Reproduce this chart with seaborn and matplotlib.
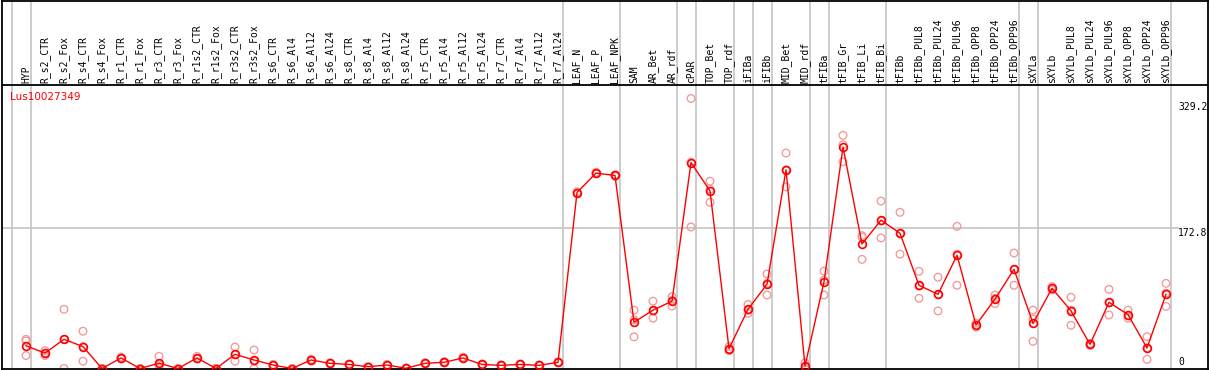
import numpy as np
import pandas as pd
import matplotlib
matplotlib.use("Agg")
import matplotlib.pyplot as plt
import seaborn as sns

# sample groups (a grey separator is drawn around each group)
groups = [
    ["HYP"],
    ["R_s2_CTR", "R_s2_Fox", "R_s4_CTR", "R_s4_Fox", "R_r1_CTR", "R_r1_Fox",
     "R_r3_CTR", "R_r3_Fox", "R_r1s2_CTR", "R_r1s2_Fox", "R_r3s2_CTR", "R_r3s2_Fox",
     "R_s6_CTR", "R_s6_Al4", "R_s6_Al12", "R_s6_Al24", "R_s8_CTR", "R_s8_Al4",
     "R_s8_Al12", "R_s8_Al24", "R_r5_CTR", "R_r5_Al4", "R_r5_Al12", "R_r5_Al24",
     "R_r7_CTR", "R_r7_Al4", "R_r7_Al12", "R_r7_Al24"],
    ["LEAF_N", "LEAF_P", "LEAF_NPK"],
    ["SAM", "AR_Bet", "AR_rdf"],
    ["cPAR"],
    ["TOP_Bet", "TOP_rdf"],
    ["iFIBa"],
    ["iFIBb"],
    ["MID_Bet", "MID_rdf"],
    ["tFIBa"],
    ["tFIB_Gr", "tFIB_Li", "tFIB_Bi"],
    ["tFIBb", "tFIBb_PUL8", "tFIBb_PUL24", "tFIBb_PUL96", "tFIBb_OPP8",
     "tFIBb_OPP24", "tFIBb_OPP96"],
    ["sXYLa"],
    ["sXYLb", "sXYLb_PUL8", "sXYLb_PUL24", "sXYLb_PUL96", "sXYLb_OPP8",
     "sXYLb_OPP24", "sXYLb_OPP96"],
]
samples = [s for g in groups for s in g]

gene = "Lus10027349"

mean_expr = [28, 19, 36, 27, 0, 13, 0, 6.5, 0, 13, 0, 17.5, 10.5, 4.3, 0, 10.5,
             6.4, 5, 2.2, 4.3, 0.3, 6.4, 7.6, 13, 5, 3.9, 5, 3.9, 7.6,
             217, 241, 238, 57, 72, 83, 254, 219, 24.4, 73, 104, 245, 3, 107,
             273, 153.5, 183, 166.7, 102.6, 91.5, 139.6, 53.6, 85.7, 122.3,
             55.7, 99, 71, 29.8, 81.6, 66.4, 25.3, 91.5]

rep1 = [36, 22, 73, 46, 0, 14, 0, 15, 0, 15, 0, 26.5, 22.8, 5, 0, 11.5,
        7, 5.5, 2.5, 5, 0.5, 7, 8.5, 14, 5.5, 4.5, 5.5, 4.5, 8,
        218, 242, 239, 72, 83, 88.5, 333, 231, 27, 79, 116.5, 265.7, 7, 120,
        287.5, 163.8, 206.5, 192.6, 119.8, 112.5, 175.3, 56, 90.6, 142.4,
        72, 101, 87.8, 31, 97.6, 72, 39.2, 105]
rep2 = [16, 16, 0, 9, 0, 12, 0, 0, 0, 12, 0, 9, 0, 3.5, 0, 9.5,
        6, 4.5, 2, 3.5, 0, 6, 7, 12, 4.5, 3.5, 4.5, 3.5, 7,
        216, 240, 237, 39, 62, 77, 174.5, 205, 22, 68, 90.6, 224, 0, 90.6,
        255, 134.6, 161, 141, 86.5, 71, 102.6, 51, 80, 102.6,
        33.5, 97, 53.3, 28.5, 66, 62, 11.3, 76.7]
rep3 = [34, 19, 36, 27, 0, 13, 0, 4.5, 0, 12, 0, 17, 9, 4.3, 0, 10.5,
        6.2, 5, 2.1, 4.3, 0.4, 6.2, 7.3, 13, 5, 3.7, 5, 3.7, 7.8,
        217, 240.5, 238, 60, 71, 84, 254.5, 221, 24, 72, 105, 245, 2, 109,
        276, 162, 182, 166, 101.5, 91, 141, 53.6, 86.5, 122,
        61, 99, 72, 30, 81, 65, 25.3, 93]

y_max_label = 329.2
y_mid_label = 172.8

pos = np.arange(len(samples))
df_mean = pd.DataFrame({"sample": samples, "pos": pos, "value": mean_expr})
df_rep = pd.DataFrame({
    "pos": np.tile(pos, 3),
    "value": rep1 + rep2 + rep3,
})

red = "#ff0000"
faded = "#f19c9c"
grid = "#c4c4c4"

fig = plt.figure(figsize=(12.09, 3.70), dpi=100)
ax = fig.add_axes([2 / 1209, 1.5 / 370, 1206 / 1209, 368 / 370])

# pixel-based scale of the original: 0 at bottom edge, 0.811 px per unit
ax.set_xlim(-1.263, 62.21)
ax.set_ylim(0, 453.8)

# separators around groups
ax.axvline(-0.74, color=grid, lw=1.2, zorder=1)
end = -1
for g in groups:
    end += len(g)
    ax.axvline(end + 0.26, color=grid, lw=1.2, zorder=1)

ax.axhline(y_mid_label, xmax=(1178 - 2) / 1206, color=grid, lw=1.2, zorder=1)
header_y = 349.6
ax.axhline(header_y, color="black", lw=1.3, zorder=3)

sns.scatterplot(data=df_rep, x="pos", y="value", ax=ax, marker="o", s=30,
                facecolors="none", edgecolor=faded, linewidth=1.0, zorder=2,
                legend=False)
sns.lineplot(data=df_mean, x="pos", y="value", ax=ax, color=red, lw=1,
             marker="o", markersize=5.6, markerfacecolor="none",
             markeredgecolor=red, markeredgewidth=1.2, zorder=4)

for i, s in enumerate(samples):
    ax.text(i, 352, s, rotation=90, ha="center", va="bottom",
            fontsize=7, family="DejaVu Sans Mono", color="black")

ax.text(-0.84, 334.8, gene, color=red, fontsize=7.5, ha="left", va="center",
        family="DejaVu Sans")

xr = 60.63
ax.text(xr, y_max_label, f"{y_max_label}", fontsize=7, family="DejaVu Sans Mono",
        ha="left", va="top")
ax.text(xr, y_mid_label, f"{y_mid_label}", fontsize=7, family="DejaVu Sans Mono",
        ha="left", va="top")
ax.text(xr, 2, "0", fontsize=7, family="DejaVu Sans Mono", ha="left", va="bottom")

ax.set_xticks([])
ax.set_yticks([])
ax.set_xlabel("")
ax.set_ylabel("")
for sp in ax.spines.values():
    sp.set_color("black")
    sp.set_linewidth(1.3)

fig.savefig("out.png", dpi=100)
